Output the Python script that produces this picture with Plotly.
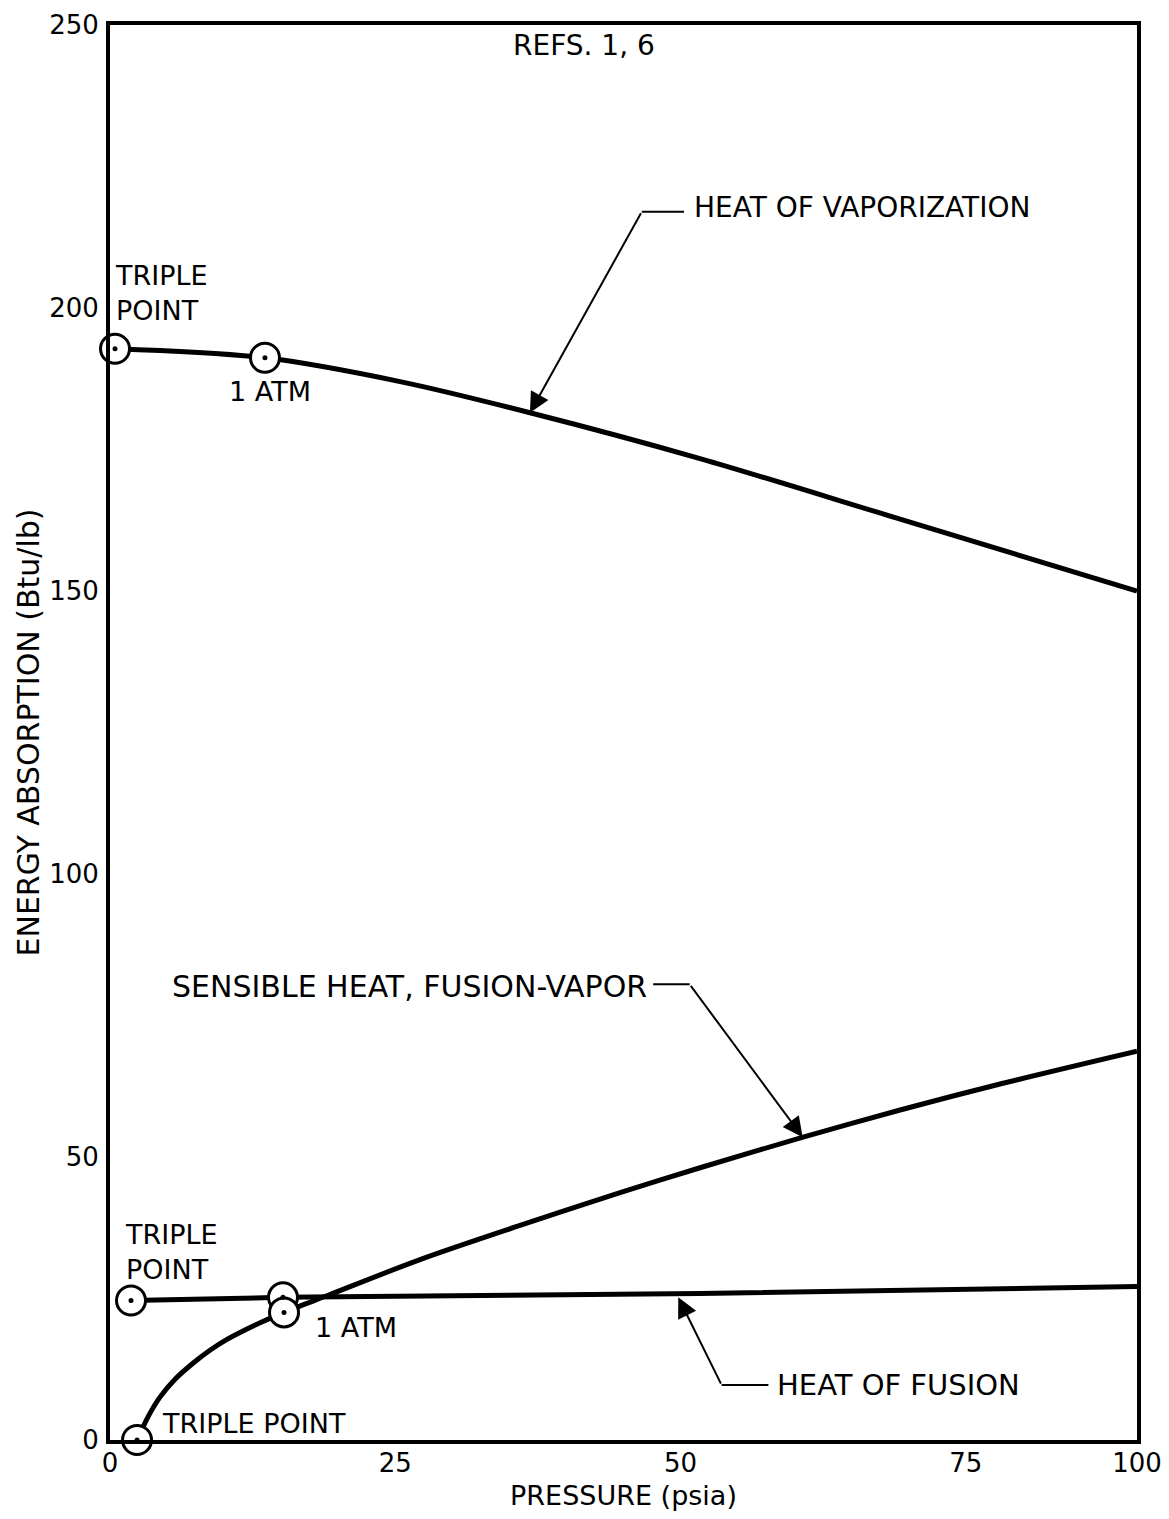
import plotly.graph_objects as go

# ---------------- data ----------------
# Heat of vaporization curve
vap_p = [0.44, 13.58, 25.42, 36.81, 51.71, 69.24, 90.0]
vap_e = [192.8, 191.2, 187.0, 181.5, 173.4, 162.7, 150.0]

# Heat of fusion curve
fus_p = [1.84, 15.16, 51.71, 90.0]
fus_e = [24.65, 25.2, 25.9, 27.1]

# Sensible heat, fusion-vapor curve
sen_p = [2.37, 2.89, 3.51, 4.38, 5.70, 7.27, 8.76, 10.25, 11.83, 13.15, 15.25,
         19.28, 27.17, 35.93, 44.70, 51.71, 60.74, 69.24, 78.0, 90.0]
sen_e = [0.0, 2.29, 4.75, 7.57, 10.74, 13.56, 15.85, 17.78, 19.45, 20.7, 22.54,
         25.70, 31.87, 37.9, 43.7, 48.1, 53.5, 58.3, 62.9, 68.7]

# Marked points (triple point / 1 atm)
mark_p = [0.44, 13.58, 1.84, 15.16, 2.37, 15.25]
mark_e = [192.8, 191.2, 24.65, 25.2, 0.0, 22.54]

# Axis ticks
x_tickvals = [0, 25, 50, 75, 90]
x_ticktext = ["0", "25", "50", "75", "100"]
y_tickvals = [0, 50, 100, 150, 200, 250]
y_ticktext = ["0", "50", "100", "150", "200", "250"]

FONT = "DejaVu Sans"
FS = 27

fig = go.Figure()

curve = dict(color="black", width=5, shape="spline", smoothing=0.9)
fig.add_trace(go.Scatter(x=vap_p, y=vap_e, mode="lines", line=curve, cliponaxis=False))
fig.add_trace(go.Scatter(x=fus_p, y=fus_e, mode="lines",
                         line=dict(color="black", width=5), cliponaxis=False))
fig.add_trace(go.Scatter(x=sen_p, y=sen_e, mode="lines", line=curve, cliponaxis=False))

fig.add_trace(go.Scatter(x=mark_p, y=mark_e, mode="markers", cliponaxis=False,
                         marker=dict(symbol="circle", size=29, color="white",
                                     line=dict(color="black", width=3))))
fig.add_trace(go.Scatter(x=mark_p, y=mark_e, mode="markers", cliponaxis=False,
                         marker=dict(symbol="circle", size=5, color="black")))

# ---------------- text labels ----------------
def label(text, x, y, xanchor="left", size=FS):
    fig.add_annotation(x=x, y=y, xref="x", yref="y", text=text, showarrow=False,
                       xanchor=xanchor, yanchor="middle", align="left",
                       font=dict(family=FONT, size=size, color="black"))

label("REFS. 1, 6", 41.5, 246.3, xanchor="center", size=28)
label("HEAT OF VAPORIZATION", 51.0, 217.8, size=28)
label("TRIPLE<br>POINT", 0.3, 202.6)
label("1 ATM", 14.0, 185.2, xanchor="center")
label("SENSIBLE HEAT, FUSION-VAPOR", 5.26, 80.1, size=30)
label("TRIPLE<br>POINT", 1.1, 33.2)
label("1 ATM", 21.6, 19.9, xanchor="center")
label("HEAT OF FUSION", 58.3, 9.7, size=29)
label("TRIPLE POINT", 4.35, 3.0)

# ---------------- leader lines with arrows ----------------
leaders = [
    # (horizontal start x, horizontal end x, y, corner x, arrow tip x, arrow tip y)
    (46.6, 50.3, 217.0, 46.6, 36.8, 181.5),
    (47.6, 50.8, 80.5, 50.8, 60.7, 53.5),
    (53.6, 57.7, 9.7, 53.6, 49.8, 25.2),
]
for hx0, hx1, hy, cx, tx, ty in leaders:
    fig.add_shape(type="line", x0=hx0, x1=hx1, y0=hy, y1=hy, xref="x", yref="y",
                  line=dict(color="black", width=2))
    fig.add_annotation(x=tx, y=ty, ax=cx, ay=hy, xref="x", yref="y",
                       axref="x", ayref="y", text="", showarrow=True,
                       arrowhead=2, arrowsize=2.0, arrowwidth=2, arrowcolor="black",
                       standoff=0)

fig.update_xaxes(range=[0, 90], tickvals=x_tickvals, ticktext=x_ticktext,
                 showgrid=False, zeroline=False, showline=True, mirror=True,
                 linecolor="black", linewidth=4, ticks="", automargin=False,
                 ticklabeloverflow="allow", ticklabelstandoff=-3,
                 tickfont=dict(family=FONT, size=26, color="black"),
                 title=dict(text="PRESSURE (psia)", standoff=30,
                            font=dict(family=FONT, size=27, color="black")))
fig.update_yaxes(range=[0, 250], tickvals=y_tickvals, ticktext=y_ticktext,
                 showgrid=False, zeroline=False, showline=True, mirror=True,
                 linecolor="black", linewidth=4, ticks="", automargin=False,
                 ticklabeloverflow="allow", ticklabelstandoff=2,
                 tickfont=dict(family=FONT, size=26, color="black"),
                 title=dict(text="ENERGY ABSORPTION (Btu/lb)", standoff=2,
                            font=dict(family=FONT, size=30, color="black")))

fig.update_layout(width=1153, height=1503,
                  margin=dict(l=102, r=24, t=17, b=71),
                  paper_bgcolor="white", plot_bgcolor="white",
                  showlegend=False)

fig.write_html("out.html")
